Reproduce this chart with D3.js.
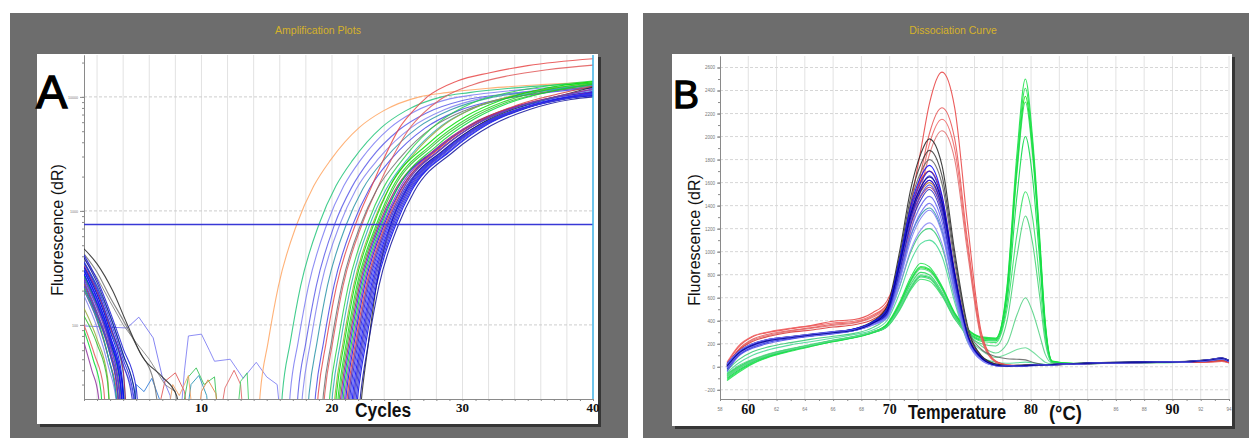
<!DOCTYPE html>
<html>
<head>
<meta charset="utf-8">
<script src="https://cdn.jsdelivr.net/npm/d3@7/dist/d3.min.js"></script>
<style>
  body { margin: 0; background: #fff; }
  svg { display: block; font-family: "Liberation Sans", Arial, sans-serif; }
</style>
</head>
<body>
<svg id="chart" width="1249" height="438"></svg>
<script>
// ---------- A: amplification plots, [cycle, fluorescence dR] ----------
// values at 8 sit below the axis floor (clipped away)
const ampCurves = [
  [[1,210],[2,120],[3,55],[3.8,25],[4.2,8],[14.2,8],[14.5,25],[15.1,70],[15.9,220],[17.3,760],[18.6,1650],[19.9,2800],[22.1,5400],[23.9,7500],[26.7,10000],[28.8,10900],[32,11900],[36,12800],[40,13500]],
  [[1,260],[2,150],[3,70],[4,28],[4.4,8],[15.9,8],[16.2,25],[16.8,70],[17.6,220],[19,760],[20.3,1650],[21.6,2800],[23.8,5400],[25.6,7500],[28.4,10000],[30.5,10900],[34,12000],[40,13200]],
  [[1,330],[2,200],[3,100],[4,45],[4.8,22],[5.1,8],[16.5,8],[16.8,25],[17.4,70],[18.2,220],[19.6,760],[20.9,1650],[22.2,2800],[24.4,5300],[26.2,7300],[29,9600],[31.1,10500],[35,11700],[40,12600]],
  [[1,300],[2,170],[3,80],[3.9,30],[4.3,8],[17.1,8],[17.4,25],[18,70],[18.8,220],[20.2,760],[21.5,1600],[22.9,2800],[25.2,5200],[27.2,7200],[30,9300],[33,10500],[40,12000]],
  [[1,180],[2,95],[2.9,42],[3.5,20],[3.8,8],[17.4,8],[17.75,25],[18.35,70],[19.15,220],[20.6,760],[21.85,1550],[23.6,2900],[26.1,5400],[28.6,7700],[31.6,9800],[34.6,11000],[40,12800]],
  [[1,350],[2,220],[3,120],[4,55],[4.9,25],[5.2,8],[17.9,8],[18.25,25],[18.85,70],[19.65,220],[21.1,760],[22.35,1550],[24.1,2900],[26.6,5400],[29.1,7700],[32.1,9800],[35.1,11000],[40,12600]],
  [[1,280],[2,160],[3,75],[3.8,30],[4.2,8],[18.4,8],[18.75,25],[19.35,70],[20.15,220],[21.6,760],[22.85,1550],[24.6,2900],[27.1,5300],[29.6,7500],[32.6,9400],[35.6,10600],[40,12000]],
  [[1,200],[2,110],[2.9,50],[3.6,22],[3.9,8],[18.6,8],[18.95,25],[19.55,70],[20.35,220],[21.8,760],[23,1600],[23.9,2750],[25.2,5400],[26.2,7500],[27.3,10000],[29.6,13800],[32.1,16300],[35,18800],[40,21600]],
  [[1,100],[1.8,55],[2.5,28],[2.9,8],[19.1,8],[19.45,25],[20.05,70],[20.85,220],[22.3,760],[23.5,1600],[24.5,2750],[25.9,5200],[27,7200],[28.3,9500],[30.8,12800],[33.5,15300],[36.5,17300],[40,19000]],
  [[1,420],[2,290],[3,175],[4,110],[5.2,60],[6.4,30],[7.2,8],[19,8],[19.35,25],[19.95,70],[20.75,220],[22.2,760],[23.45,1550],[25.2,2900],[27.7,5400],[30.2,7600],[33.2,9600],[36.2,11000],[40,12400]],
  [[1,230],[2,125],[3,55],[3.6,25],[3.9,8],[19.5,8],[19.85,25],[20.45,70],[21.25,220],[22.7,760],[23.95,1600],[25.7,3100],[28.2,6000],[30.7,8800],[33.7,11000],[36.7,12600],[40,13800]],
  [[1,310],[2,185],[3,90],[4,38],[4.5,8],[19.7,8],[20.05,25],[20.65,70],[21.45,220],[22.9,760],[24.15,1550],[25.9,2950],[28.4,5600],[30.9,8000],[33.9,10100],[36.9,11600],[40,12800]],
  [[1,140],[2,75],[2.8,35],[3.2,8],[19.9,8],[20.25,25],[20.85,70],[21.65,220],[23.1,760],[24.35,1580],[26.1,3000],[28.6,5700],[31.1,8200],[34.1,10400],[37.1,12000],[40,13100]],
  [[1,270],[2,150],[3,70],[3.8,28],[4.2,8],[20,8],[20.35,25],[20.95,70],[21.75,220],[23.2,760],[24.4,1600],[27.4,3900],[30.3,6800],[32.9,9300],[36.2,11800],[40,13600]],
  [[1,210],[2,115],[2.9,50],[3.5,22],[3.8,8],[20.1,8],[20.5,25],[21.1,70],[21.9,220],[23.4,760],[24.6,1580],[27.6,3800],[30.5,6600],[33.1,9000],[36.4,11500],[40,13300]],
  [[1,330],[2,195],[3,95],[4,40],[4.5,8],[20.3,8],[20.7,25],[21.3,70],[22.1,220],[23.6,760],[24.8,1500],[27.8,3400],[30.7,5800],[33.7,8000],[36.8,9800],[40,11000]],
  [[1,360],[2,215],[3,110],[4,50],[4.8,24],[5.1,8],[20.4,8],[20.8,25],[21.4,70],[22.2,220],[23.7,760],[24.9,1500],[27.9,3400],[30.8,5800],[33.8,8000],[36.9,9700],[40,11200]],
  [[1,250],[2,140],[3,65],[3.7,28],[4.1,8],[20.6,8],[21,25],[21.6,70],[22.4,220],[23.9,760],[25.1,1520],[28.1,3500],[31,5900],[34,8100],[37.1,9900],[40,11800]],
  [[1,90],[1.7,50],[2.3,26],[2.6,8],[20.5,8],[20.9,25],[21.5,70],[22.3,220],[23.8,760],[25,1560],[28,3700],[30.9,6400],[33.5,8800],[36.8,11200],[40,13000]],
  [[1,300],[2,170],[3,80],[3.9,32],[4.3,8],[20.7,8],[21.1,25],[21.7,70],[22.5,220],[24,760],[25.2,1500],[28.2,3400],[31.1,5800],[34.1,8000],[37.2,9600],[40,10900]],
  [[1,230],[2,125],[3,58],[3.6,25],[3.9,8],[20.8,8],[21.2,25],[21.8,70],[22.6,220],[24.1,760],[25.3,1530],[28.3,3600],[31.2,6100],[34.2,8500],[37.3,10600],[40,12400]],
  [[1,410],[2,250],[3,130],[4,62],[5,28],[5.4,8],[21,8],[21.4,25],[22,70],[22.8,220],[24.3,760],[25.5,1500],[28.5,3400],[31.4,5800],[34.4,7900],[37.5,9500],[40,10700]],
  [[1,465],[2,343],[3.2,199],[4.3,102],[5.5,52],[7,35],[8.1,24],[8.8,8],[21.9,8],[22.3,25],[22.8,70],[23.4,220],[24.5,760],[25.7,1550],[28.7,3500],[31.6,6000],[34.6,8300],[37.7,10400],[40,12200]],
  [[1,280],[2,155],[3,72],[3.8,30],[4.2,8],[21.2,8],[21.6,25],[22.2,70],[23,220],[24.5,760],[25.7,1500],[28.7,3400],[31.6,5800],[34.6,7900],[37.7,9500],[40,10500]],
  [[1,350],[2,205],[3,100],[4,45],[4.7,22],[5,8],[21.4,8],[21.8,25],[22.4,70],[23.2,220],[24.7,760],[25.9,1500],[28.9,3400],[31.8,5800],[34.8,8000],[37.9,9700],[40,10300]],
  [[1,200],[2,110],[2.9,50],[3.5,22],[3.8,8],[20.9,8],[21.3,25],[21.9,70],[22.7,220],[24.2,760],[25.4,1520],[28.4,3500],[31.3,6000],[34.3,8200],[37.4,10100],[40,11500]],
  [[1,320],[2,185],[3,88],[3.9,36],[4.4,8],[21.6,8],[22,25],[22.6,70],[23.4,220],[24.9,760],[26.1,1500],[29.1,3360],[32,5800],[35,8050],[38.1,9850],[40,10200]],
  [[1,260],[2,145],[3,68],[3.7,28],[4.1,8],[21.3,8],[21.7,25],[22.3,70],[23.1,220],[24.6,760],[25.8,1500],[28.8,3400],[31.7,5800],[34.7,8000],[37.8,9700],[40,10600]],
  [[1,390],[2,235],[3,120],[4,55],[4.9,25],[5.2,8],[21.8,8],[22.2,25],[22.8,70],[23.6,220],[25.1,760],[26.3,1480],[29.3,3300],[32.2,5600],[35.2,7800],[38.3,9500],[40,10000]],
  [[1,220],[2,120],[3,55],[3.6,24],[3.9,8],[21.1,8],[21.5,25],[22.1,70],[22.9,220],[24.4,760],[25.6,1500],[28.6,3400],[31.5,5800],[34.5,8000],[37.6,9700],[40,10800]],
  [[1,300],[2,170],[3,78],[3.8,30],[4.2,8],[21.5,8],[21.9,25],[22.5,70],[23.3,220],[24.8,760],[26,1500],[29,3360],[31.9,5800],[34.9,8050],[38,9850],[40,10400]],
  [[1,70],[1.6,40],[2.1,24],[2.4,8],[20.9,8],[21.3,25],[21.9,70],[22.7,220],[24.2,760],[25.4,1520],[28.4,3500],[31.3,6000],[34.3,8300],[37.4,10200],[40,11600]],
  [[1,120],[2,68],[2.8,32],[3.2,8],[20.2,8],[20.6,25],[21.2,70],[22,220],[23.5,760],[24.7,1560],[27.7,3700],[30.6,6400],[33.2,8800],[36.5,11000],[40,12900]],
  [[1,240],[2,130],[3,60],[3.7,25],[4,8],[21.3,8],[21.7,25],[22.3,70],[23.1,220],[24.6,760],[25.8,1500],[28.8,3400],[31.7,5800],[34.7,7900],[37.8,9600],[40,10500]]
];
const ampNoise = [
  [[1,98],[2.5,96],[4.3,94],[5.2,117],[6.3,77],[7,35],[7.6,24],[8,8]],
  [[8.2,8],[8.7,40],[9,80],[10,83],[10.6,60],[11,48],[12.2,50],[13.2,34],[14.2,47],[15,35],[15.8,30],[16.3,8]],
  [[6,8],[7.2,32],[8,38],[8.7,26],[9.3,8]],
  [[8,8],[9,35],[9.6,42],[10.2,30],[11,35],[11.5,8]],
  [[8.5,8],[9.2,30],[9.8,36],[10.4,24],[10.8,8]],
  [[11,8],[11.8,28],[12.5,40],[13,30],[13.4,8]],
  [[12.5,8],[13,32],[13.5,38],[13.8,8]],
  [[7,8],[7.8,30],[8.3,24],[9,36],[9.6,8]],
  [[1,380],[2,260],[3,160],[4,100],[5,70],[6,50],[7.2,30],[8,26],[8.6,8]],
  [[4.5,8],[5,30],[5.6,26],[6.2,34],[6.8,22],[7.4,8]],
  [[9.5,8],[10,26],[10.5,33],[11.1,25],[11.6,8]]
];
const ampThreshold = 760;
const ampYTicks = [100, 1000, 10000];
const ampXLabels = [10, 20, 30, 40];

// ---------- B: dissociation curve, values at meltTemps ----------
const meltTemps = [58.5, 59.3, 60.3, 61.5, 63, 64.5, 66, 67.5, 68.8, 69.8, 70.7, 71.5, 72.2, 72.8, 73.7, 74.6, 75.5, 76.5, 77.5, 78.3, 79, 79.6, 80.1, 80.6, 81, 81.5, 83, 85.5, 88, 90.5, 92.5, 93.5, 94];
const meltGreen = [
  [-110,-40,30,90,140,180,220,255,300,370,560,780,900,870,700,470,330,260,250,700,1850,2500,2000,1150,400,50,30,36,40,42,55,70,50],
  [-80,-10,50,105,150,190,228,262,305,365,540,750,860,840,680,455,320,250,240,650,1720,2350,1900,1080,360,45,28,35,39,41,52,66,48],
  [-60,0,60,110,155,192,230,262,300,355,520,720,820,800,650,440,310,240,235,620,1680,2300,1850,1050,350,42,27,34,38,40,50,64,46],
  [-100,-30,40,95,145,185,222,255,295,350,505,690,790,775,635,430,300,230,225,560,1480,2000,1650,940,320,40,26,33,37,40,50,63,45],
  [-70,-5,55,100,148,186,224,258,298,345,490,670,760,745,615,415,290,220,210,500,1150,1520,1300,760,270,38,25,33,37,39,50,62,44],
  [-90,-20,45,100,148,186,224,258,298,348,500,680,780,765,625,420,280,200,180,400,960,1310,1080,620,220,35,25,32,36,39,49,61,43],
  [-60,10,65,115,158,195,232,265,305,360,530,740,850,830,675,450,290,180,120,200,450,600,480,280,110,30,24,32,36,39,49,62,44],
  [-80,-10,50,105,150,188,226,260,300,352,510,700,800,785,645,430,260,140,80,110,150,165,130,80,40,25,22,30,35,38,48,60,42],
  [-50,30,100,150,190,220,250,280,320,400,640,920,1070,1100,960,560,220,80,40,30,35,40,35,25,20,18,22,30,35,38,48,60,42],
  [-30,60,130,175,210,240,265,290,340,430,700,1000,1160,1200,1040,600,230,70,20,10,12,14,14,15,16,18,24,32,36,40,52,65,45],
  [-120,-50,25,85,135,178,218,252,296,362,545,760,870,850,690,460,325,255,245,680,1780,2420,1950,1110,380,48,29,35,39,41,53,68,49]
];
const meltRed = [
  [30,170,260,300,330,360,395,410,470,570,880,1420,1880,2280,2560,2250,1250,290,50,18,12,15,14,16,18,20,26,36,40,44,45,52,40],
  [10,150,240,285,315,340,370,385,440,540,830,1280,1680,2020,2250,1980,1100,260,45,15,10,12,13,14,16,18,24,34,38,40,42,48,36],
  [40,180,265,305,335,355,380,395,450,540,800,1230,1610,1930,2150,1890,1050,250,42,14,10,12,12,14,15,17,23,33,37,40,41,47,35],
  [0,140,230,275,310,335,360,380,430,520,780,1180,1540,1840,2050,1800,1000,235,40,12,9,11,12,13,15,17,22,32,36,39,40,46,34],
  [20,140,220,265,300,320,345,365,410,520,920,1380,1620,1700,1480,830,300,85,18,7,9,11,12,14,15,18,24,33,37,40,45,55,40]
];
const meltOther = [
  [10,120,190,232,258,280,300,325,385,490,900,1340,1540,1620,1400,780,275,72,14,6,8,10,12,14,16,19,25,34,38,42,56,72,50],
  [0,115,185,228,254,276,298,322,380,480,870,1300,1480,1560,1350,750,265,68,12,5,7,9,11,13,15,18,24,33,37,40,54,69,48],
  [20,125,195,236,260,282,302,328,388,490,890,1320,1520,1600,1380,770,270,70,13,5,8,10,12,14,16,19,25,35,39,43,57,73,51],
  [0,108,178,222,248,270,292,316,372,450,780,1140,1320,1380,1180,660,240,60,11,4,7,9,11,13,15,17,25,33,37,41,55,70,48]
];
const meltBlack = [
  [15,125,195,235,258,280,300,330,395,520,1000,1550,1850,1980,1750,1000,360,95,25,10,12,14,15,16,18,20,28,38,42,44,60,75,55],
  [-5,105,175,222,250,272,294,322,385,505,960,1480,1760,1880,1660,950,340,90,22,9,11,13,15,17,18,21,27,36,40,43,58,73,52],
  [20,130,198,238,262,284,304,326,390,500,930,1430,1690,1800,1590,900,340,150,90,70,65,60,40,25,18,20,26,36,41,45,62,76,56]
];
const meltBlue = [
  [10,120,190,230,255,280,300,330,390,500,930,1400,1650,1750,1490,820,290,80,15,5,8,10,14,12,16,18,25,34,38,42,58,72,50],
  [-20,100,170,215,250,270,290,320,375,480,900,1360,1600,1700,1450,800,280,75,12,3,6,10,12,15,14,20,27,36,40,40,52,68,45],
  [30,130,200,240,260,285,305,325,385,470,880,1330,1560,1660,1420,780,275,70,14,6,9,12,10,14,17,19,24,33,37,44,55,75,52],
  [0,110,180,225,245,275,295,315,370,460,860,1300,1530,1620,1380,760,265,70,12,4,7,9,13,12,15,17,26,35,39,41,57,70,48],
  [-40,90,160,205,240,265,285,315,365,450,840,1270,1490,1580,1350,740,260,65,10,2,6,8,11,13,14,18,24,32,36,40,50,66,44],
  [20,125,195,235,260,280,300,320,375,455,820,1240,1450,1540,1310,720,255,65,14,6,8,11,12,14,16,20,26,36,39,43,60,78,55],
  [10,115,185,230,255,275,300,320,370,440,790,1190,1400,1480,1260,700,250,60,12,5,7,10,12,13,15,17,25,33,37,40,54,70,48],
  [-10,105,175,220,250,270,290,315,365,430,760,1140,1340,1420,1210,670,240,58,10,4,6,9,11,12,14,16,24,32,36,41,52,67,46],
  [25,130,200,240,262,282,302,322,372,430,740,1100,1290,1360,1160,640,235,58,12,5,8,10,12,14,16,19,26,34,38,42,58,74,50],
  [0,110,180,225,250,272,292,315,360,420,700,1020,1190,1250,1070,600,220,55,10,4,7,9,11,13,15,18,25,33,37,41,55,70,48],
  [5,115,185,228,252,276,296,318,378,480,890,1330,1560,1650,1430,800,285,78,14,5,8,10,12,14,15,19,25,34,38,41,56,72,50]
];
const meltYTicks = [-200, 0, 200, 400, 600, 800, 1000, 1200, 1400, 1600, 1800, 2000, 2200, 2400, 2600];
const meltXLabels = [60, 70, 80, 90];
const meltXSmall = [58, 62, 64, 66, 68, 86, 88, 92, 94];

// ---------- colours ----------
const ampColors = ["#ffa460","#22c47a","#7b7bf2","#5a5ae8","#8080f0","#2a94a8","#4848e6","#e84848","#e05858","#707070",
  "#28d24a","#30a8b8","#98a838","#00e000","#18d818","#a8185a","#2828e4","#8a28b8","#00dc30","#0a0af0",
  "#d83a3a","#1818d8","#262626","#0000ff","#2a2ac8","#2a78d8","#0000e6","#5a38d8","#10109a","#3030f0",
  "#1a1aee","#9030a0","#30c030","#4040d0"];
const noiseColors = ["#7070f0","#7a7af2","#e05050","#30c050","#2090b0","#e06060","#40d060","#f0a060","#808080","#2a78d8","#e08040"];
const greenColors = ["#10e040","#00e000","#20d850","#00d840","#30e060","#40d070","#50d080","#60d890","#40d890","#30c870","#18e048"];
const redColors = ["#e84040","#e85050","#f06060","#e06868","#d83030"];
const otherColors = ["#8a2ab0","#a0205a","#c07830","#2a94a8"];
const blackColors = ["#202020","#383838","#606060"];
const blueColors = ["#0000ff","#1a1ae0","#3030f0","#0a0ad0","#4848e8","#2020c0","#5c5cf0","#6a6af4","#7878f4","#8888f6","#000090"];

const svg = d3.select("#chart");
const defs = svg.append("defs");

// scales
const xA = d3.scaleLinear().domain([1, 40]).range([84, 593]);
const yA = d3.scaleLog().domain([22.4, 23300]).range([399, 55]);
const xB = d3.scaleLinear().domain([58, 94]).range([720, 1229]);
const yB = d3.scaleLinear().domain([-280, 2700]).range([399, 56]);

defs.append("clipPath").attr("id", "clipA").append("rect")
  .attr("x", 84).attr("y", 55).attr("width", 509).attr("height", 344);
defs.append("clipPath").attr("id", "clipB").append("rect")
  .attr("x", 720).attr("y", 56).attr("width", 509).attr("height", 343);

function panel(x, w, boxX, boxW, boxH, title, titleX) {
  svg.append("rect").attr("x", x).attr("y", 13).attr("width", w).attr("height", 425).attr("fill", "#6d6d6d");
  svg.append("text").attr("x", titleX).attr("y", 34).attr("text-anchor", "middle")
    .attr("font-size", 10.5).attr("fill", "#d6b22a").text(title);
  svg.append("rect").attr("x", boxX + 3).attr("y", 57).attr("width", boxW).attr("height", boxH).attr("fill", "#363636");
  svg.append("rect").attr("x", boxX).attr("y", 54).attr("width", boxW).attr("height", boxH).attr("fill", "#ffffff");
}

function styleAxis(g, size, color) {
  g.attr("font-size", size).attr("font-family", "Liberation Sans, Arial, sans-serif");
  g.select(".domain").attr("stroke", "#8a8a8a");
  g.selectAll(".tick line").attr("stroke", "#8a8a8a");
  g.selectAll(".tick text").attr("fill", color);
}

// tall, narrow bold label (condensed look of the original)
function boldLabel(g, x, y, size, sy, txt) {
  g.append("text").attr("transform", "translate(" + x + "," + y + ") scale(1," + sy + ")")
    .attr("font-size", size).attr("font-weight", "bold").attr("fill", "#111").text(txt);
}

// ================= Panel A =================
panel(10, 618, 37, 561, 370, "Amplification Plots", 318);
const gA = svg.append("g");

gA.append("g").selectAll("line").data(d3.range(2, 40, 2)).join("line")
  .attr("x1", d => xA(d)).attr("x2", d => xA(d)).attr("y1", 55).attr("y2", 399)
  .attr("stroke", "#e2e2e2");
gA.append("g").selectAll("line").data(ampYTicks).join("line")
  .attr("x1", 84).attr("x2", 593).attr("y1", d => yA(d)).attr("y2", d => yA(d))
  .attr("stroke", "#cdcdcd").attr("stroke-dasharray", "3,2");

const ayMinor = gA.append("g").attr("transform", "translate(84,0)")
  .call(d3.axisLeft(yA).tickValues(yA.ticks()).tickSize(2).tickSizeOuter(0).tickFormat(""));
styleAxis(ayMinor, 4, "#777");
const ayMajor = gA.append("g").attr("transform", "translate(84,0)")
  .call(d3.axisLeft(yA).tickValues(ampYTicks).tickSize(4).tickSizeOuter(0).tickPadding(2).tickFormat(d3.format("d")));
styleAxis(ayMajor, 3.6, "#777");
const axA = gA.append("g").attr("transform", "translate(0,399)")
  .call(d3.axisBottom(xA).tickValues(d3.range(1, 41)).tickSize(2).tickSizeOuter(0).tickFormat(""));
styleAxis(axA, 4, "#777");

const lineA = d3.line().x(d => xA(d[0])).y(d => yA(d[1])).curve(d3.curveMonotoneX);
const noiseLine = d3.line().x(d => xA(d[0])).y(d => yA(d[1]));
const plotA = gA.append("g").attr("clip-path", "url(#clipA)");
plotA.selectAll(".noise").data(ampNoise).join("path").attr("class", "noise")
  .attr("d", noiseLine).attr("fill", "none")
  .attr("stroke", (d, i) => noiseColors[i]).attr("stroke-width", 1).attr("opacity", 0.85);
plotA.selectAll(".amp").data(ampCurves).join("path").attr("class", "amp")
  .attr("d", lineA).attr("fill", "none")
  .attr("stroke", (d, i) => ampColors[i]).attr("stroke-width", 1.1).attr("opacity", 0.85);

gA.append("line").attr("x1", 84).attr("x2", 593)
  .attr("y1", yA(ampThreshold)).attr("y2", yA(ampThreshold))
  .attr("stroke", "#3838d6").attr("stroke-width", 1.5);
gA.append("line").attr("x1", xA(40)).attr("x2", xA(40)).attr("y1", 55).attr("y2", 399)
  .attr("stroke", "#3cb2e6").attr("stroke-width", 1.5);

gA.append("g").selectAll("text").data(ampXLabels).join("text")
  .attr("x", d => xA(d)).attr("y", 412).attr("text-anchor", "middle")
  .attr("font-family", "Liberation Serif, Times New Roman, serif").attr("font-weight", "bold")
  .attr("font-size", 13).attr("fill", "#111").text(d => d);

boldLabel(gA, 355, 417, 17.4, 1.15, "Cycles");
gA.append("text").attr("transform", "translate(63,230) rotate(-90)").attr("text-anchor", "middle")
  .attr("font-size", 16).attr("fill", "#111").text("Fluorescence (dR)");
gA.append("text").attr("x", 36).attr("y", 108).attr("font-size", 47)
  .attr("fill", "#000").attr("stroke", "#000").attr("stroke-width", 1.3).text("A");

// ================= Panel B =================
panel(643, 606, 672, 560, 372, "Dissociation Curve", 953);
const gB = svg.append("g");

gB.append("g").selectAll("line").data(d3.range(60, 95, 2)).join("line")
  .attr("x1", d => xB(d)).attr("x2", d => xB(d)).attr("y1", 56).attr("y2", 399)
  .attr("stroke", "#e2e2e2");
gB.append("g").selectAll("line").data(meltYTicks).join("line")
  .attr("x1", 720).attr("x2", 1229).attr("y1", d => yB(d)).attr("y2", d => yB(d))
  .attr("stroke", "#d6d6d6").attr("stroke-dasharray", "3,2");

const byMinor = gB.append("g").attr("transform", "translate(720,0)")
  .call(d3.axisLeft(yB).tickValues(d3.range(-200, 2700, 100)).tickSize(2).tickSizeOuter(0).tickFormat(""));
styleAxis(byMinor, 4, "#777");
const byMajor = gB.append("g").attr("transform", "translate(720,0)")
  .call(d3.axisLeft(yB).tickValues(meltYTicks).tickSize(3).tickSizeOuter(0).tickPadding(2).tickFormat(d3.format("d")));
styleAxis(byMajor, 4.5, "#777");
const bxMinor = gB.append("g").attr("transform", "translate(0,399)")
  .call(d3.axisBottom(xB).tickValues(d3.range(58, 95, 1)).tickSize(2).tickSizeOuter(0).tickFormat(""));
styleAxis(bxMinor, 4, "#777");

const lineB = d3.line().x((d, i) => xB(meltTemps[i])).y(d => yB(d)).curve(d3.curveMonotoneX);
const plotB = gB.append("g").attr("clip-path", "url(#clipB)");
function drawMelt(rows, colors, cls) {
  plotB.selectAll("." + cls).data(rows).join("path").attr("class", cls)
    .attr("d", lineB).attr("fill", "none")
    .attr("stroke", (d, i) => colors[i]).attr("stroke-width", 1.1).attr("opacity", 0.85);
}
drawMelt(meltGreen, greenColors, "green");
drawMelt(meltRed, redColors, "red");
drawMelt(meltOther, otherColors, "other");
drawMelt(meltBlack, blackColors, "black");
drawMelt(meltBlue, blueColors, "blue");

gB.append("g").selectAll("text").data(meltXSmall).join("text")
  .attr("x", d => xB(d)).attr("y", 411).attr("text-anchor", "middle")
  .attr("font-size", 4.5).attr("fill", "#777").text(d => d);
gB.append("g").selectAll("text").data(meltXLabels).join("text")
  .attr("x", d => xB(d)).attr("y", 414).attr("text-anchor", "middle")
  .attr("font-family", "Liberation Serif, Times New Roman, serif").attr("font-weight", "bold")
  .attr("font-size", 14).attr("fill", "#111").text(d => d);

boldLabel(gB, 908, 419, 16.4, 1.2, "Temperature");
boldLabel(gB, 1049, 420, 18.4, 1.08, "(°C)");
gB.append("text").attr("transform", "translate(700,240) rotate(-90)").attr("text-anchor", "middle")
  .attr("font-size", 16).attr("fill", "#111").text("Fluorescence (dR)");
gB.append("text").attr("x", 673).attr("y", 108).attr("font-size", 39)
  .attr("fill", "#000").attr("stroke", "#000").attr("stroke-width", 1.3).text("B");
</script>
</body>
</html>
